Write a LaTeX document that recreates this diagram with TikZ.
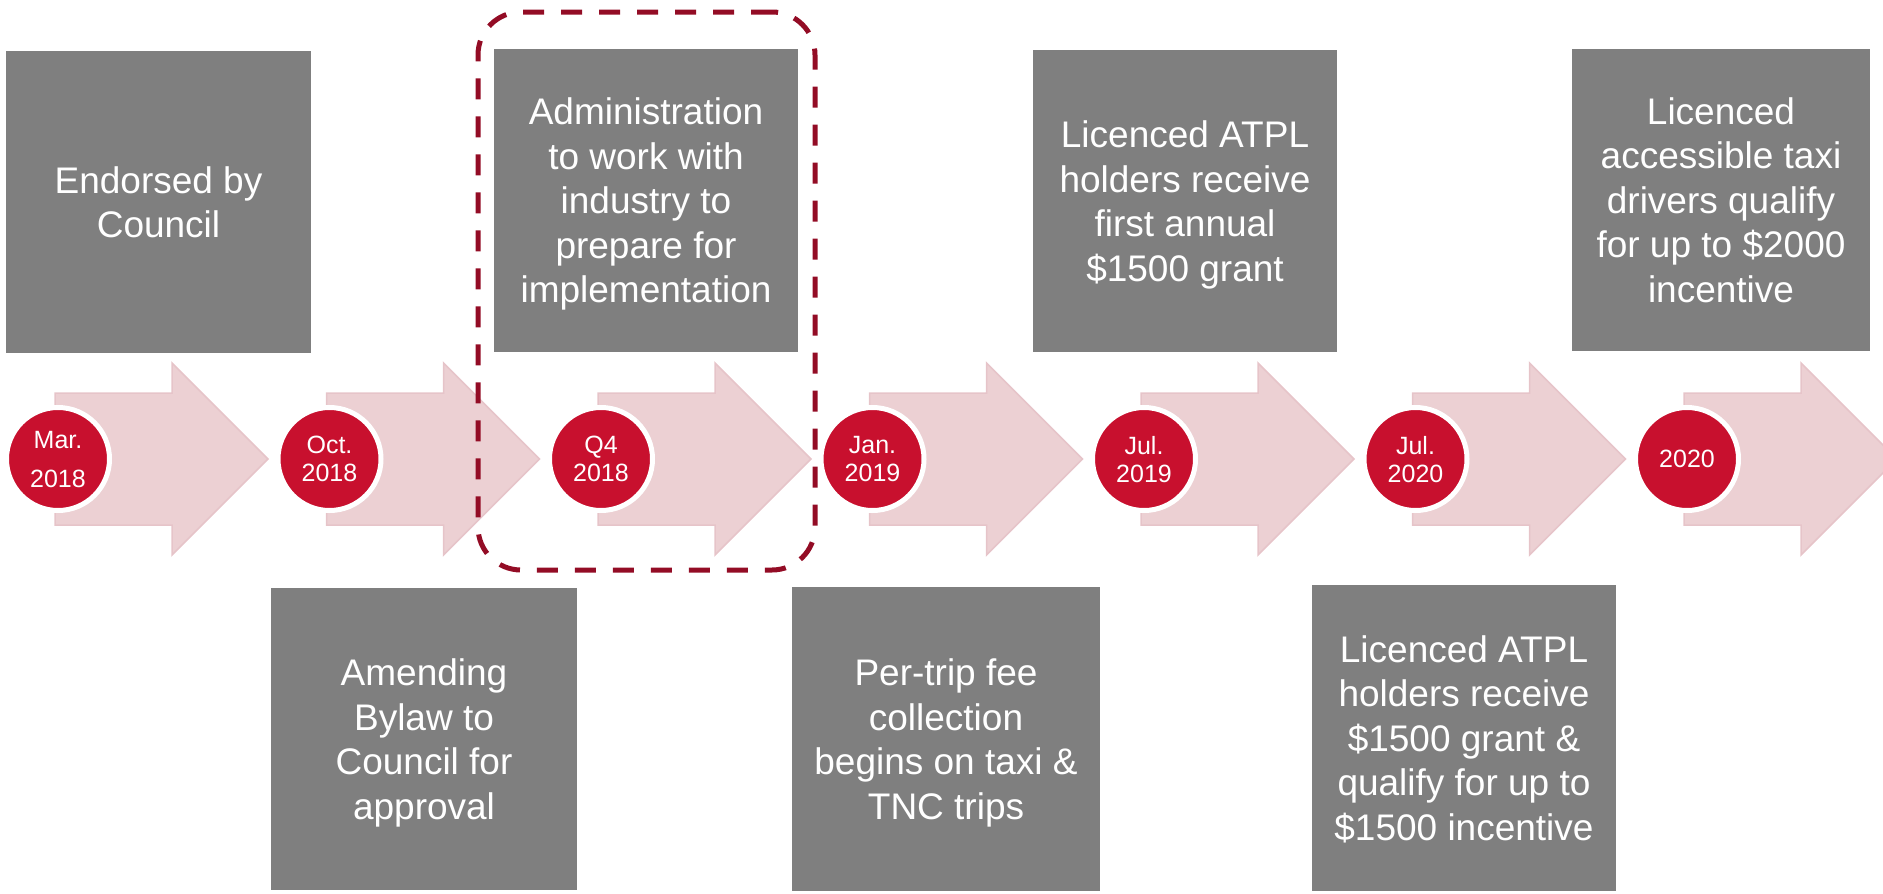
\documentclass[tikz,border=0pt]{standalone}
\usepackage{fontspec}
\setmainfont{Liberation Sans}
\definecolor{boxgray}{HTML}{7F7F7F}
\definecolor{dotred}{HTML}{C8102E}
\definecolor{arrowpink}{HTML}{ECD0D3}
\definecolor{arrowedge}{HTML}{E6C4C9}
\definecolor{dashred}{HTML}{930C25}
\begin{document}
\begin{tikzpicture}[x=1pt,y=-1pt,
  evbox/.style={rectangle, fill=boxgray, inner sep=0pt, text=white, align=center,
    text depth=0pt, font=\fontsize{37}{44.5}\selectfont},
  datedot/.style={circle, fill=dotred, draw=white, line width=5pt, minimum size=103pt,
    inner sep=0pt, text=white, align=center, text depth=0pt, font=\fontsize{25}{28}\selectfont},
  timearrow/.style={fill=arrowpink, draw=arrowedge, line width=1.5pt, line join=miter},
  focusbox/.style={rectangle, draw=dashred, line width=5pt, rounded corners=43pt,
    dash pattern=on 21pt off 17pt, inner sep=0pt}
]
\useasboundingbox (0,0) rectangle (1883,894);
\clip (0,0) rectangle (1883,894);

% timeline arrows
\foreach \c in {58,329.5,601,872.5,1144,1415.5,1687}{
  \draw[timearrow] (\c-3,393) -- (\c+114,393) -- (\c+114,363) -- (\c+210,459)
    -- (\c+114,555) -- (\c+114,525) -- (\c-3,525) -- cycle;
}

% date circles
\node[datedot] (d1) at (58,459) {Mar.\\[11pt]2018};
\node[datedot] (d2) at (329.5,459) {Oct.\\2018};
\node[datedot] (d3) at (601,459) {Q4\\2018};
\node[datedot] (d4) at (872.5,459) {Jan.\\2019};
\node[datedot] (d5) at (1144,459) {Jul.\\2019};
\node[datedot] (d6) at (1415.5,459) {Jul.\\2020};
\node[datedot] (d7) at (1687,459) {2020};

% event boxes, top row
\node[evbox, minimum width=305pt, minimum height=302pt] (b1) at (158.5,202)
  {Endorsed by\\Council};
\node[evbox, minimum width=304pt, minimum height=303pt] (b2) at (646,200.5)
  {Administration\\to work with\\industry to\\prepare for\\implementation};
\node[evbox, minimum width=304pt, minimum height=302pt] (b3) at (1185,201)
  {Licenced ATPL\\holders receive\\first annual\\\$1500 grant};
\node[evbox, minimum width=298pt, minimum height=302pt] (b4) at (1721,200)
  {Licenced\\accessible taxi\\drivers qualify\\for up to \$2000\\incentive};

% event boxes, bottom row
\node[evbox, minimum width=306pt, minimum height=302pt] (b5) at (424,739)
  {Amending\\Bylaw to\\Council for\\approval};
\node[evbox, minimum width=308pt, minimum height=304pt] (b6) at (946,739)
  {Per-trip fee\\collection\\begins on taxi \&\\TNC trips};
\node[evbox, minimum width=304pt, minimum height=306pt] (b7) at (1464,738)
  {Licenced ATPL\\holders receive\\\$1500 grant \&\\qualify for up to\\\$1500 incentive};

% dashed highlight
\node[focusbox, minimum width=337pt, minimum height=558pt] (focus) at (646.5,291) {};
\end{tikzpicture}
\end{document}
